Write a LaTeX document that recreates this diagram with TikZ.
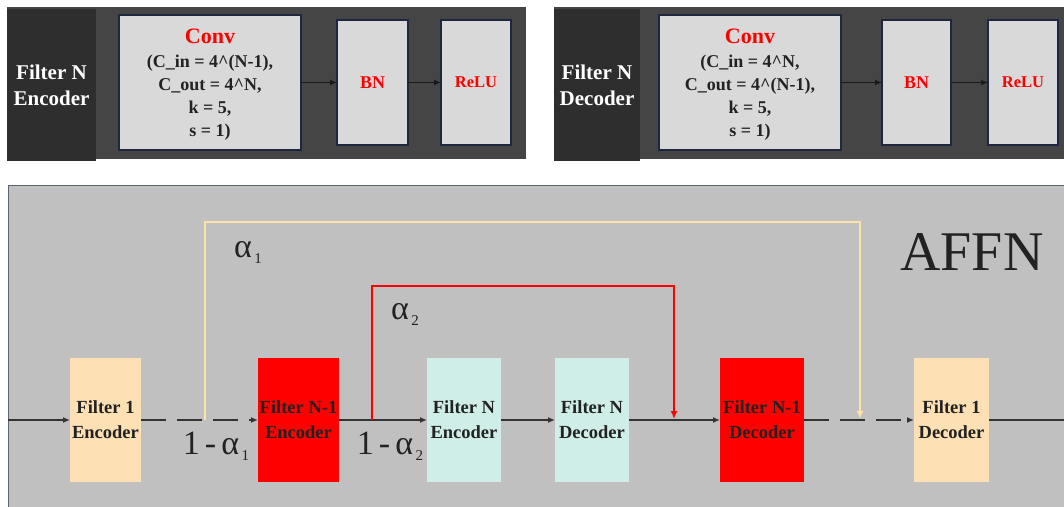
\documentclass[tikz,border=0pt]{standalone}
\usepackage{fontspec}
\setmainfont{Liberation Serif}
\usetikzlibrary{arrows.meta}
\definecolor{panel}{HTML}{454545}
\definecolor{paneldark}{HTML}{2E2E2E}
\definecolor{boxgray}{HTML}{D9D9D9}
\definecolor{boxedge}{HTML}{1F2640}
\definecolor{bgray}{HTML}{C0C0C0}
\definecolor{bedge}{HTML}{5C6378}
\definecolor{peach}{HTML}{FDE0B3}
\definecolor{mint}{HTML}{D0EEE8}
\definecolor{cream}{HTML}{FFE2AA}
\definecolor{ink}{HTML}{222222}
\definecolor{lineink}{HTML}{333333}
\newcommand\fsz[2]{\fontsize{#1}{#2}\selectfont}
\newcommand\lowsub[1]{\raisebox{-6pt}{\fsz{15}{15}\,#1}}
\newcommand\minusgap{\hspace{5pt}-\hspace{5pt}}
\begin{document}
\begin{tikzpicture}[x=1pt,y=-1pt,
  panelbox/.style={fill=panel,draw=none,inner sep=0pt,outer sep=0pt},
  darkbox/.style={fill=paneldark,draw=none,inner sep=0pt,outer sep=0pt,align=center,text=white,font=\fsz{21}{26}\bfseries},
  layerbox/.style={fill=boxgray,draw=boxedge,line width=1.2pt,inner sep=0pt,outer sep=0pt,text=red,font=\fsz{18}{20}\bfseries},
  convtitle/.style={text=red,font=\fsz{22}{24}\bfseries,inner sep=0pt},
  convparams/.style={align=center,text=ink,font=\fsz{18}{23}\bfseries,inner sep=0pt},
  tarrow/.style={draw=black!90,line width=1.8pt,-{Latex[length=7pt,width=6pt]}},
  filt/.style={draw=none,inner sep=0pt,outer sep=0pt,minimum height=124pt,align=center,font=\fsz{18.5}{25}\bfseries,text=ink},
  flow/.style={draw=lineink,line width=1.8pt,-{Latex[length=7pt,width=6pt]}},
  dashpat/.style={dash pattern=on 25pt off 11pt},
  skipone/.style={draw=cream,line width=2.6pt,-{Latex[length=8pt,width=7pt]}},
  skiptwo/.style={draw=red,line width=2.6pt,-{Latex[length=8pt,width=7pt]}},
  biglabel/.style={font=\fsz{34}{40},text=ink,inner sep=0pt}
]
\useasboundingbox (0,0) rectangle (1064,506);
\fill[white] (0,0) rectangle (1064,506);

% ---------- top left panel ----------
\node[panelbox,minimum width=519pt,minimum height=152pt] (pL) at (266.5,83) {};
\node[darkbox,minimum width=89pt,minimum height=152pt] (tL) at (51.5,85) {Filter N\\Encoder};
\node[layerbox,minimum width=182pt,minimum height=135pt] (convL) at (210,82.5) {};
\node[convtitle] (convLt) at (210,36) {Conv};
\node[convparams] (convLp) at (210,98) {(C\_in = 4\textasciicircum(N-1),\\C\_out = 4\textasciicircum N,\\k = 5,\\s = 1)};
\node[layerbox,minimum width=71pt,minimum height=125pt] (bnL) at (372.5,82.5) {BN};
\node[layerbox,minimum width=70pt,minimum height=125pt,font=\fsz{16.5}{20}\bfseries] (reluL) at (476,82.5) {ReLU};
\draw[tarrow] (convL) -- (bnL);
\draw[tarrow] (bnL) -- (reluL);

% ---------- top right panel ----------
\node[panelbox,minimum width=510pt,minimum height=152pt] (pR) at (809,83) {};
\node[darkbox,minimum width=86pt,minimum height=152pt] (tR) at (597,85) {Filter N\\Decoder};
\node[layerbox,minimum width=182pt,minimum height=135pt] (convR) at (750,82.5) {};
\node[convtitle] (convRt) at (750,36) {Conv};
\node[convparams] (convRp) at (750,98) {(C\_in = 4\textasciicircum N,\\C\_out = 4\textasciicircum(N-1),\\k = 5,\\s = 1)};
\node[layerbox,minimum width=69pt,minimum height=125pt] (bnR) at (916.5,82.5) {BN};
\node[layerbox,minimum width=70pt,minimum height=125pt,font=\fsz{16.5}{20}\bfseries] (reluR) at (1023,82.5) {ReLU};
\draw[tarrow] (convR) -- (bnR);
\draw[tarrow] (bnR) -- (reluR);

% ---------- bottom panel ----------
\node[draw=bedge,fill=bgray,line width=1pt,minimum width=1062pt,minimum height=330pt,inner sep=0pt] (bottom) at (539,350) {};
\node[font=\fsz{56}{60},text=ink,inner sep=0pt] (affn) at (972,252) {AFFN};

\node[filt,fill=peach,minimum width=71pt] (f1e) at (105.5,420) {Filter 1\\Encoder};
\node[filt,fill=red,minimum width=81pt] (fN1e) at (298.5,420) {Filter N-1\\Encoder};
\node[filt,fill=mint,minimum width=74pt] (fNe) at (464,420) {Filter N\\Encoder};
\node[filt,fill=mint,minimum width=74pt] (fNd) at (592,420) {Filter N\\Decoder};
\node[filt,fill=red,minimum width=84pt] (fN1d) at (762,420) {Filter N-1\\Decoder};
\node[filt,fill=peach,minimum width=75pt] (f1d) at (951.5,420) {Filter 1\\Decoder};

\coordinate (in) at (8,420);
\coordinate (out) at (1064,420);
\coordinate (y1a) at (205,420);
\coordinate (y1t) at (205,222);
\coordinate (y1b) at (860,419);
\coordinate (r2a) at (372,420);
\coordinate (r2t) at (372,286);
\coordinate (r2b) at (674,419);

\draw[flow] (in) -- (f1e);
\draw[flow,dashpat] (f1e) -- (fN1e);
\draw[flow] (fN1e) -- (fNe);
\draw[flow] (fNe) -- (fNd);
\draw[flow] (fNd) -- (fN1d);
\draw[flow,dashpat] (fN1d) -- (f1d);
\draw[draw=lineink,line width=1.8pt] (f1d) -- (out);

\draw[skipone] (y1a) -- (y1t) -| (y1b);
\draw[skiptwo] (r2a) -- (r2t) -| (r2b);

\node[biglabel] (a1) at (248,252) {α\lowsub{1}};
\node[biglabel] (a2) at (405,314) {α\lowsub{2}};
\node[biglabel] (oma1) at (216,446) {1\minusgap α\lowsub{1}};
\node[biglabel] (oma2) at (390,446) {1\minusgap α\lowsub{2}};
\end{tikzpicture}
\end{document}
